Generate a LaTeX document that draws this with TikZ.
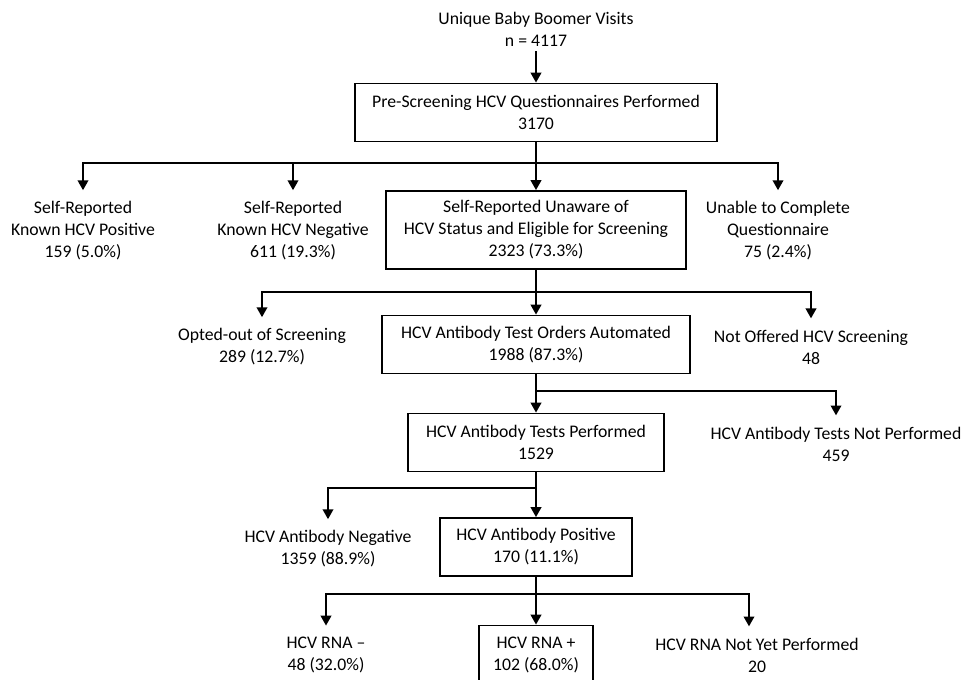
\documentclass[tikz,border=0pt]{standalone}
\usepackage{fontspec}
\setmainfont{Carlito}
\usetikzlibrary{arrows.meta, positioning, calc}

\begin{document}
\begin{tikzpicture}[
    x=0.025cm, y=-0.025cm,
    font=\fontsize{12.6}{15.6}\selectfont,
    box/.style={rectangle, draw, line width=1.3pt, text centered,
                minimum width=#1, minimum height=1.45cm, inner sep=0pt},
    txt/.style={rectangle, inner xsep=2pt, inner ysep=0.28cm, text centered},
    arr/.style={-{Triangle[length=7pt, width=7.5pt]}, line width=1.3pt},
    every node/.style={align=center}
  ]
  \useasboundingbox (0,0) rectangle (967,679);

  %% ---- Top: visits and questionnaires ----
  \node (visits) at (536,29) {Unique Baby Boomer Visits\\n = 4117};
  \node[box=9.05cm] (prescreen) at (536,112.5)
        {Pre-Screening HCV Questionnaires Performed\\3170};

  %% ---- Second row ----
  \node[txt] (knownpos) at (83,231) {Self-Reported\\Known HCV Positive\\159 (5.0\%)};
  \node[txt] (knownneg) at (293,231) {Self-Reported\\Known HCV Negative\\611 (19.3\%)};
  \node[box=7.5cm, minimum height=1.95cm] (unaware) at (536,230)
        {Self-Reported Unaware of\\HCV Status and Eligible for Screening\\2323 (73.3\%)};
  \node[txt] (unable) at (778,231) {Unable to Complete\\Questionnaire\\75 (2.4\%)};

  %% ---- Third row ----
  \node[txt] (optout) at (262,347) {Opted-out of Screening\\289 (12.7\%)};
  \node[box=7.7cm] (orders) at (536,344.5)
        {HCV Antibody Test Orders Automated\\1988 (87.3\%)};
  \node[txt] (notoffered) at (811,347) {Not Offered HCV Screening\\48};

  %% ---- Fourth row ----
  \node[box=6.4cm] (performed) at (536,442.5)
        {HCV Antibody Tests Performed\\1529};
  \node[txt] (notperformed) at (836,444) {HCV Antibody Tests Not Performed\\459};

  %% ---- Fifth row ----
  \node[txt] (abneg) at (328,549) {HCV Antibody Negative\\1359 (88.9\%)};
  \node[box=4.8cm] (abpos) at (536,547) {HCV Antibody Positive\\170 (11.1\%)};

  %% ---- Bottom row ----
  \node[txt] (rnaneg) at (326,655) {HCV RNA --\\48 (32.0\%)};
  \node[box=2.85cm] (rnapos) at (536,654.5) {HCV RNA +\\102 (68.0\%)};
  \node[txt] (rnanotyet) at (757,655) {HCV RNA Not Yet Performed\\20};

  %% ---- Junctions ----
  \coordinate (j1) at (536,163);
  \coordinate (j2) at (536,292);
  \coordinate (j3) at (536,391);
  \coordinate (j4) at (536,488);
  \coordinate (j5) at (536,594);

  %% ---- Connectors ----
  \draw[arr] (visits) -- (prescreen);
  \draw[line width=1.3pt] (prescreen) -- (j1);
  \draw[arr] (j1) -| (knownpos);
  \draw[arr] (j1) -| (knownneg);
  \draw[arr] (j1) -- (unaware);
  \draw[arr] (j1) -| (unable);

  \draw[line width=1.3pt] (unaware) -- (j2);
  \draw[arr] (j2) -| (optout);
  \draw[arr] (j2) -- (orders);
  \draw[arr] (j2) -| (notoffered);

  \draw[arr] (orders) -- (performed);
  \draw[arr] (j3) -| (notperformed);

  \draw[arr] (performed) -- (abpos);
  \draw[arr] (j4) -| (abneg);

  \draw[arr] (abpos) -- (rnapos);
  \draw[arr] (j5) -| (rnaneg);
  \draw[arr] (j5) -| ([xshift=-0.2cm]rnanotyet.north);

\end{tikzpicture}
\end{document}
